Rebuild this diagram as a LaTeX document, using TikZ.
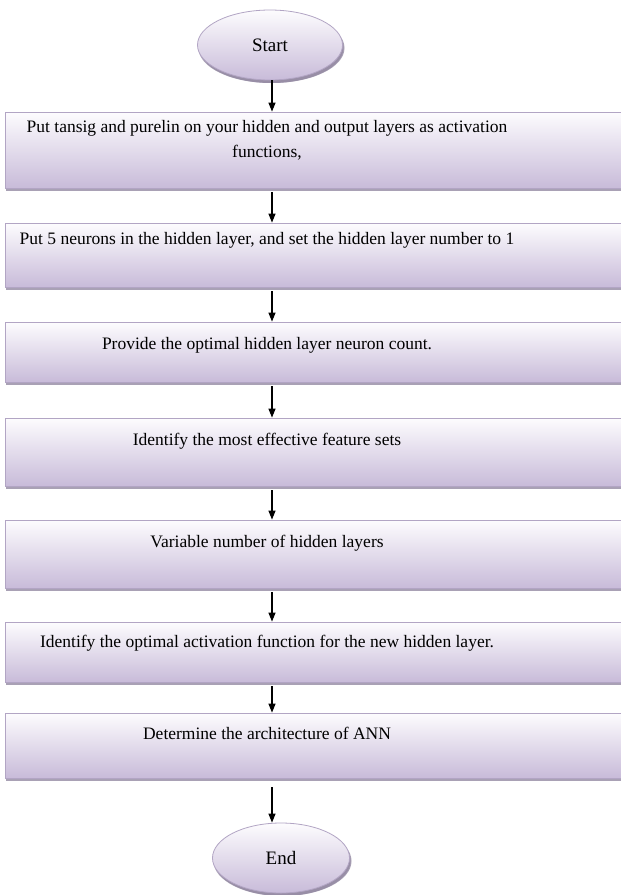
\documentclass[tikz,border=0pt]{standalone}
\usepackage{fontspec}
\setmainfont{Liberation Serif}
\usetikzlibrary{arrows.meta, shapes.geometric, shadows}

\definecolor{lavtop}{HTML}{FDFCFE}
\definecolor{lavbot}{HTML}{C8BBD9}
\definecolor{lavline}{HTML}{B2A5C4}
\definecolor{lavshadow}{HTML}{948AA3}

\begin{document}
\begin{tikzpicture}[->,>={Triangle[length=9pt,width=7pt]},x=1pt,y=-1pt,
  line width=1.2pt,
  flow node/.style={draw=lavline,line width=0.8pt,top color=lavtop,bottom color=lavbot,
    drop shadow={shadow xshift=1pt,shadow yshift=-3pt,fill=lavshadow,opacity=0.8}},
  step node/.style={flow node,rectangle,minimum width=621pt,inner sep=0pt},
  end node/.style={flow node,ellipse,inner sep=0pt,
    drop shadow={shadow xshift=2pt,shadow yshift=-3pt,fill=lavshadow,opacity=0.8}},
  step text/.style={align=center,font=\fontsize{17.5}{25}\selectfont},
  end text/.style={font=\fontsize{19}{22}\selectfont}]

  \useasboundingbox (0,0) rectangle (621,895);
  \fill[white] (0,0) rectangle (621,895);

  \node[end node, minimum width=145pt, minimum height=70pt] (start) at (270,45) {};
  \node[end text] at (start) {Start};

  \node[step node, minimum height=76pt] (b1) at (315.5,150) {};
  \node[step node, minimum height=64pt] (b2) at (315.5,255) {};
  \node[step node, minimum height=60pt] (b3) at (315.5,352) {};
  \node[step node, minimum height=68pt] (b4) at (315.5,452) {};
  \node[step node, minimum height=68pt] (b5) at (315.5,554) {};
  \node[step node, minimum height=60pt] (b6) at (315.5,652) {};
  \node[step node, minimum height=65pt] (b7) at (315.5,745.5) {};

  \node[end node, minimum width=137pt, minimum height=70pt] (end) at (281,858) {};
  \node[end text] at (end) {End};

  % texts sit near the top of each box
  \node[step text] (t1) at (267,140.5) {Put tansig and purelin on your hidden and output layers as activation\\functions,};
  \node[step text] (t2) at (267,240) {Put 5 neurons in the hidden layer, and set the hidden layer number to 1};
  \node[step text] (t3) at (267,345) {Provide the optimal hidden layer neuron count.};
  \node[step text] (t4) at (267,441) {Identify the most effective feature sets};
  \node[step text] (t5) at (267,543) {Variable number of hidden layers};
  \node[step text] (t6) at (267,643) {Identify the optimal activation function for the new hidden layer.};
  \node[step text] (t7) at (267,733) {Determine the architecture of ANN};

  \draw (start.south -| 272,0) -- (b1.north -| 272,0);
  \foreach \i [count=\j from 2] in {1,...,6}
    \draw[shorten <=4pt] (b\i.south -| 272,0) -- (b\j.north -| 272,0);
  \draw[shorten <=9pt] (b7.south -| 272,0) -- (end.north -| 272,0);
\end{tikzpicture}
\end{document}
